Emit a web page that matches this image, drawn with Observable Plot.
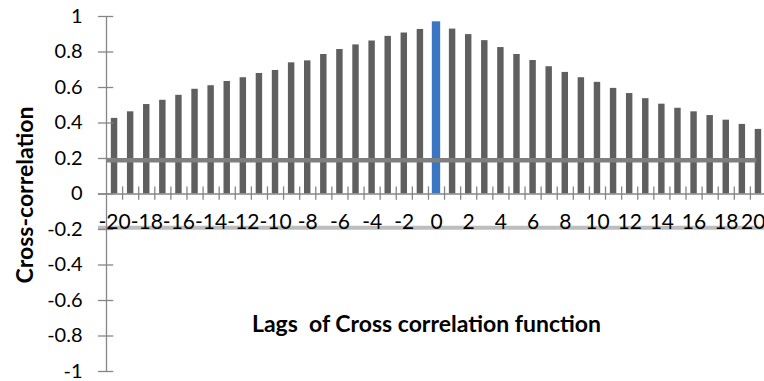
<!DOCTYPE html>
<html>
<head>
<meta charset="utf-8">
<script src="https://cdn.jsdelivr.net/npm/d3@7"></script>
<script src="https://cdn.jsdelivr.net/npm/@observablehq/plot@0.6"></script>
<style>
  html, body { margin: 0; padding: 0; background: #fff; }
  svg { font-family: Lato, "Liberation Sans", sans-serif; }
</style>
</head>
<body>
<div id="chart"></div>
<script>
const lags = d3.range(-20, 21);
const correlations = [
  0.426, 0.463, 0.504, 0.528, 0.556, 0.590, 0.610, 0.634, 0.655, 0.679,
  0.696, 0.739, 0.750, 0.786, 0.814, 0.840, 0.862, 0.888, 0.907, 0.927,
  0.970,
  0.929, 0.898, 0.864, 0.825, 0.786, 0.752, 0.717, 0.685, 0.655, 0.629,
  0.595, 0.566, 0.537, 0.506, 0.483, 0.463, 0.442, 0.416, 0.392, 0.364
];
const upperBound = 0.19;
const lowerBound = -0.19;
const yTicks = [-1, -0.8, -0.6, -0.4, -0.2, 0, 0.2, 0.4, 0.6, 0.8, 1];
const xTickLabels = d3.range(-20, 21, 2);
const xTitle = "Lags  of Cross correlation function";
const yTitle = "Cross-correlation";

const data = lags.map((lag, i) => ({lag, r: correlations[i]}));
const boundaries = d3.range(-19.5, 20.6, 1);
const axisColor = "#868686";
const lastLabel = xTickLabels[xTickLabels.length - 1];

const chart = Plot.plot({
  width: 764,
  height: 381,
  marginLeft: 106,
  marginRight: 0,
  marginTop: 16,
  marginBottom: 10,
  x: {domain: [-20.5, 20.5], range: [106, 766], axis: null},
  y: {domain: [-1, 1], axis: null},
  marks: [
    // lower bound line (light)
    Plot.ruleY([lowerBound], {x1: -21, x2: 20.5, stroke: "#bdbdbd", strokeWidth: 4}),
    // bars
    Plot.rectY(data.filter(d => d.lag !== 0), {x1: d => d.lag - 0.2, x2: d => d.lag + 0.2, y1: 0, y2: "r", fill: "#5f5f5f"}),
    Plot.rectY(data.filter(d => d.lag === 0), {x1: d => d.lag - 0.26, x2: d => d.lag + 0.26, y1: 0, y2: "r", fill: "#3a76c2"}),
    // upper bound line
    Plot.ruleY([upperBound], {x1: -20.5, x2: 19.9, stroke: "#7f7f7f", strokeWidth: 4.5}),
    // y axis line
    Plot.ruleX([-20.5], {y1: -1, y2: 1, stroke: axisColor, strokeWidth: 1.3}),
    // y ticks crossing
    Plot.ruleY(yTicks, {x1: -21, x2: -20.05, stroke: axisColor, strokeWidth: 1.3}),
    // x axis line at zero
    Plot.ruleY([0], {x1: -21, x2: 20.5, stroke: axisColor, strokeWidth: 1.3}),
    // x category ticks
    Plot.ruleX(boundaries, {y1: 0.04, y2: -0.035, stroke: axisColor, strokeWidth: 1.3}),
    // y tick labels
    Plot.axisY({ticks: yTicks, tickSize: 0, tickPadding: 24, label: null, tickFormat: d => String(+d.toFixed(1)), fontSize: 20, fill: "#000"}),
    // x tick labels
    Plot.text(xTickLabels.filter(d => d !== lastLabel), {x: d => d, y: 0, dy: 28, text: d => String(d), fontSize: 21, fill: "#000"}),
    Plot.text([lastLabel], {x: d => d, y: 0, dy: 28, dx: 7, textAnchor: "end", text: d => String(d), fontSize: 21, fill: "#000"}),
    // titles
    Plot.text([xTitle], {frameAnchor: "top", textAnchor: "middle", lineAnchor: "middle", dx: -9, dy: 308, text: d => d, fontSize: 23, fontWeight: "bold", fill: "#000"}),
    Plot.text([yTitle], {frameAnchor: "left", textAnchor: "middle", lineAnchor: "middle", dx: -81, dy: 1, rotate: -90, text: d => d, fontSize: 23, fontWeight: "bold", fill: "#000"})
  ]
});
document.getElementById("chart").appendChild(chart);
</script>
</body>
</html>
